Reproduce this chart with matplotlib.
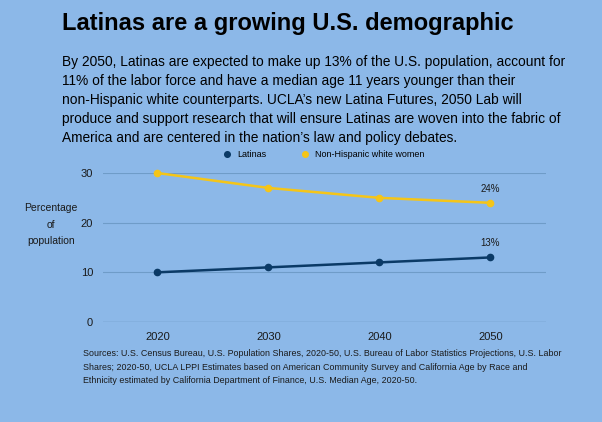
import matplotlib
matplotlib.use("Agg")
import matplotlib.pyplot as plt

years = [2020, 2030, 2040, 2050]
latinas = [10, 11, 12, 13]
nhw = [30, 27, 25, 24]
yticks = [0, 10, 20, 30]

bg = "#8cb8e8"
navy = "#0b3a66"
gold = "#f5c518"
plt.rcParams['font.family'] = ['Liberation Sans', 'DejaVu Sans']

fig = plt.figure(figsize=(6.02, 4.22), dpi=100, facecolor=bg)
ax = fig.add_axes([0.171, 0.237, 0.736, 0.353], facecolor=bg)
ax.plot(years, latinas, color=navy, marker='o', ms=4.5, lw=1.8, clip_on=False, label='Latinas')
ax.plot(years, nhw, color=gold, marker='o', ms=4.5, lw=1.8, clip_on=False, label='Non-Hispanic white women')
ax.annotate("13%", (2050, 13), xytext=(0, 8), textcoords='offset points', ha='center', fontsize=7, color='#1a1a1a')
ax.annotate("24%", (2050, 24), xytext=(0, 8), textcoords='offset points', ha='center', fontsize=7, color='#1a1a1a')
ax.set_xlim(2015.1, 2055)
ax.set_ylim(0, 30)
ax.set_xticks(years)
ax.set_yticks(yticks)
ax.tick_params(length=0, labelsize=8, colors='#1a1a1a', pad=7)
ax.grid(axis='y', color='#6f9cc8', lw=0.8)
ax.set_axisbelow(True)
for s in ax.spines.values():
    s.set_visible(False)
ax.axhline(0, color='#5b87b3', lw=0.9)
fig.text(0.085, 0.468, "Percentage\nof\npopulation", ha='center', va='center', fontsize=7.5, linespacing=1.8, color='#1a1a1a')
leg = ax.legend(loc='lower center', bbox_to_anchor=(0.5, 1.04), ncol=2, frameon=False, fontsize=6.5,
                handlelength=0.6, markerscale=0.9, columnspacing=4, handletextpad=0.8)
for h in leg.legend_handles:
    h.set_linestyle('')

fig.text(0.103, 0.945, "Latinas are a growing U.S. demographic", fontsize=17, fontweight='bold', va='center', color='black')
body = ("By 2050, Latinas are expected to make up 13% of the U.S. population, account for\n"
        "11% of the labor force and have a median age 11 years younger than their\n"
        "non-Hispanic white counterparts. UCLA\u2019s new Latina Futures, 2050 Lab will\n"
        "produce and support research that will ensure Latinas are woven into the fabric of\n"
        "America and are centered in the nation\u2019s law and policy debates.")
fig.text(0.103, 0.87, body, fontsize=9.9, va='top', linespacing=1.45, color='black')
src = ("Sources: U.S. Census Bureau, U.S. Population Shares, 2020-50, U.S. Bureau of Labor Statistics Projections, U.S. Labor\n"
       "Shares; 2020-50, UCLA LPPI Estimates based on American Community Survey and California Age by Race and\n"
       "Ethnicity estimated by California Department of Finance, U.S. Median Age, 2020-50.")
fig.text(0.138, 0.172, src, fontsize=6.4, va='top', linespacing=1.6, color='#1a1a1a')
fig.savefig("out.png", dpi=100, facecolor=bg)
